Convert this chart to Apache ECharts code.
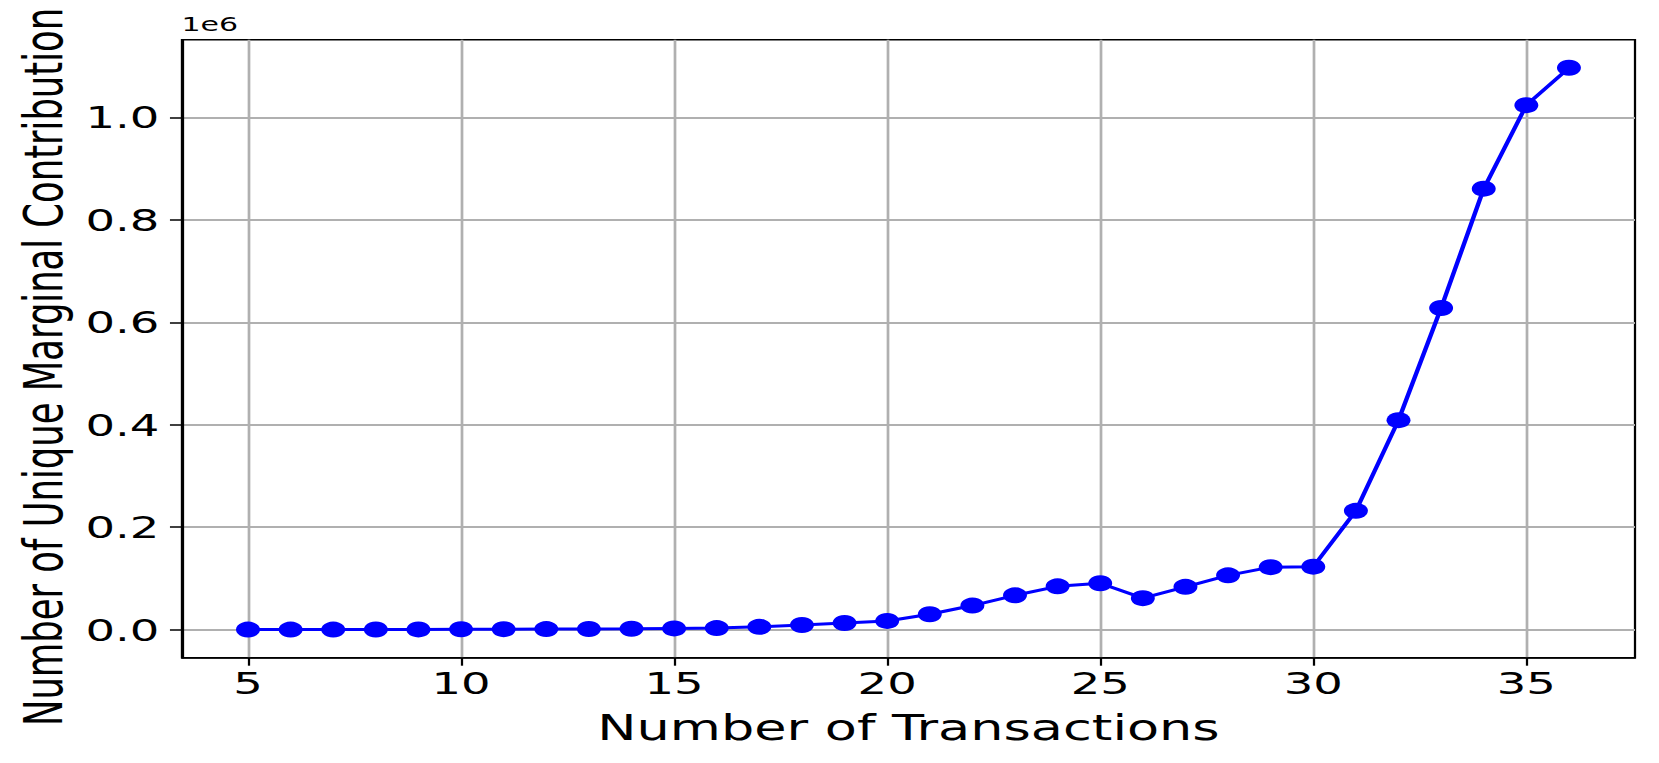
<!DOCTYPE html>
<html><head><meta charset="utf-8">
<script src="https://cdn.jsdelivr.net/npm/echarts@6/dist/echarts.min.js"></script>
<style>
html,body{margin:0;padding:0;background:#fff;overflow:hidden;width:1659px;height:763px}
#chart{width:1106px;height:763px;transform:scaleX(1.5);transform-origin:0 0}
</style></head><body><div id="chart"></div>
<script>
// ---- data ----
const transactions = [5,6,7,8,9,10,11,12,13,14,15,16,17,18,19,20,21,22,23,24,25,26,27,28,29,30,31,32,33,34,35,36];
const contributions = [31,63,127,250,480,700,900,1100,1300,1800,2400,3000,5500,9000,13000,17000,30000,47000,67000,84500,90500,61500,83500,106000,122000,123000,232000,409000,628000,861000,1024000,1097000];
const xTickValues = [5,10,15,20,25,30,35];
const yTickValues = [0,200000,400000,600000,800000,1000000];
const xTitle = 'Number of Transactions';
const yTitle = 'Number of Unique Marginal Contribution';
const offsetText = '1e6';

// ---- chart ----
const FONT = 'DejaVu Sans';
const xMinD = Math.min(...transactions), xMaxD = Math.max(...transactions);
const yMinD = Math.min(...contributions), yMaxD = Math.max(...contributions);
const xPad = (xMaxD - xMinD) * 0.05, yPad = (yMaxD - yMinD) * 0.05;
const points = transactions.map((x, i) => [x, contributions[i]]);

const chart = echarts.init(document.getElementById('chart'), null, {renderer: 'svg'});
chart.setOption({
  animation: false,
  backgroundColor: '#ffffff',
  grid: {left: 121.3, right: 16, top: 39.7, bottom: 105.3, show: true, borderColor: '#000', borderWidth: 1.5, backgroundColor: 'transparent'},
  xAxis: {
    type: 'value', min: xMinD - xPad, max: xMaxD + xPad,
    axisLine: {show: true, onZero: false, lineStyle: {color: '#000', width: 1.5}},
    axisTick: {show: true, length: 8, lineStyle: {color: '#000', width: 1.5}, customValues: xTickValues},
    axisLabel: {customValues: xTickValues, color: '#000', fontFamily: FONT, fontSize: 31, margin: 10},
    splitLine: {show: true, lineStyle: {color: '#b0b0b0', width: 1.8}},
    name: xTitle, nameLocation: 'middle', nameGap: 53,
    nameTextStyle: {color: '#000', fontFamily: FONT, fontSize: 35}
  },
  yAxis: {
    type: 'value', min: yMinD - yPad, max: yMaxD + yPad,
    axisLine: {show: true, onZero: false, lineStyle: {color: '#000', width: 1.5}},
    axisTick: {show: true, length: 8, lineStyle: {color: '#000', width: 1.5}, customValues: yTickValues},
    axisLabel: {customValues: yTickValues, color: '#000', fontFamily: FONT, fontSize: 31, margin: 15,
      formatter: v => (v / 1e6).toFixed(1)},
    splitLine: {show: true, lineStyle: {color: '#b0b0b0', width: 1.8}}
  },
  graphic: [
    {type: 'text', left: 121, top: 14, style: {text: offsetText, font: '20px "DejaVu Sans"', fill: '#000'}},
    {type: 'text', x: 29.5, y: 367, rotation: Math.PI / 2,
     style: {text: yTitle, font: '35.4px "DejaVu Sans"', fill: '#000', align: 'center', verticalAlign: 'middle'}}
  ],
  series: [{
    type: 'line', data: points, symbol: 'circle', symbolSize: 16,
    itemStyle: {color: '#0000ff'}, lineStyle: {color: '#0000ff', width: 3}
  }]
});
</script></body></html>
